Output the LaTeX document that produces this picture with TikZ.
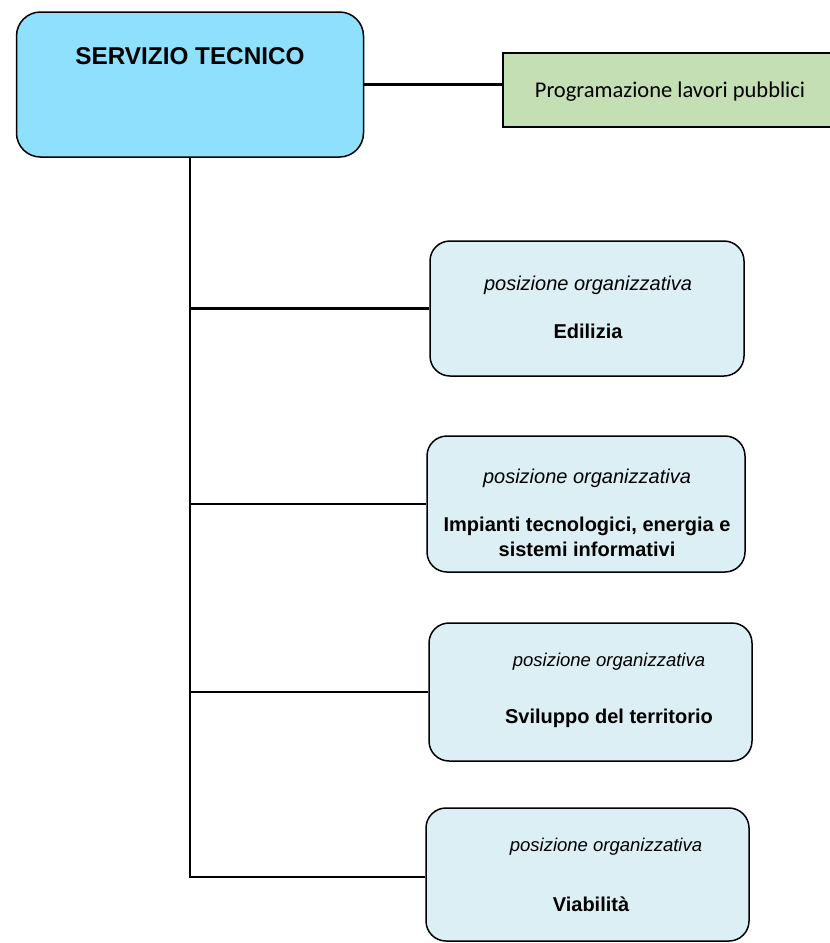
\documentclass[tikz,border=0pt]{standalone}
\usepackage{fontspec}
\setmainfont{Liberation Sans}
\newfontfamily\carlito{Carlito}
\definecolor{headblue}{HTML}{8EE0FD}
\definecolor{poblue}{HTML}{DCEFF5}
\definecolor{progreen}{HTML}{C5DFB4}

\tikzstyle{headbox}=[draw, line width=1.5pt, rounded corners=24pt, fill=headblue, inner sep=0pt]
\tikzstyle{pobox}=[draw, line width=1.5pt, rounded corners=20pt, fill=poblue, inner sep=0pt]
\tikzstyle{progbox}=[draw, line width=1.5pt, fill=progreen, inner sep=0pt]
\tikzstyle{potitle}=[inner sep=0pt, font=\itshape\fontsize{20}{24}\selectfont]
\tikzstyle{posmall}=[inner sep=0pt, font=\itshape\fontsize{18.5}{22}\selectfont]
\tikzstyle{poname}=[inner sep=0pt, align=center, font=\bfseries\fontsize{20}{25}\selectfont]
\tikzstyle{link}=[line width=2.4pt]

\begin{document}
\begin{tikzpicture}[x=1pt, y=-1pt]
  \useasboundingbox (0,0) rectangle (830,943);
  % boxes
  \node[headbox, minimum width=347pt, minimum height=145pt] (main) at (190,84.5) {};
  \node[inner sep=0pt, font=\bfseries\fontsize{24.3}{28}\selectfont] (maintext) at (190,56) {SERVIZIO TECNICO};
  \node[progbox, minimum width=329pt, minimum height=74pt] (prog) at (667.5,90) {};
  \node[inner sep=0pt, font=\carlito\fontsize{22.5}{26}\selectfont] (progtext) at (670,92) {Programazione lavori pubblici};

  \node[pobox, minimum width=314pt, minimum height=135pt] (edil) at (587,308.5) {};
  \node[pobox, minimum width=318pt, minimum height=136pt] (impi) at (586,504) {};
  \node[pobox, minimum width=323pt, minimum height=138pt] (svil) at (590.5,692) {};
  \node[pobox, minimum width=323pt, minimum height=133pt] (viab) at (587.5,874.5) {};

  % texts
  \node[potitle] (edilpo) at (588,285) {posizione organizzativa};
  \node[poname] (edilname) at (588,331) {Edilizia};
  \node[potitle] (impipo) at (587,478) {posizione organizzativa};
  \node[poname] (impiname) at (587,537) {Impianti tecnologici, energia e\\sistemi informativi};
  \node[posmall] (svilpo) at (609,662) {posizione organizzativa};
  \node[poname] (svilname) at (609,718) {Sviluppo del territorio};
  \node[posmall] (viabpo) at (606,847) {posizione organizzativa};
  \node[poname] (viabname) at (591,904) {Viabilità};

  % connectors
  \draw[link] (main.east) -- (prog.west |- main.east);
  \coordinate (corner) at (190,877);
  \draw[link, line join=miter] (main.south) -- (corner) -- (viab.west |- corner);
  \foreach \b in {edil, impi, svil} {
    \draw[link] (main.south |- \b.west) -- (\b.west);
  }
\end{tikzpicture}
\end{document}
